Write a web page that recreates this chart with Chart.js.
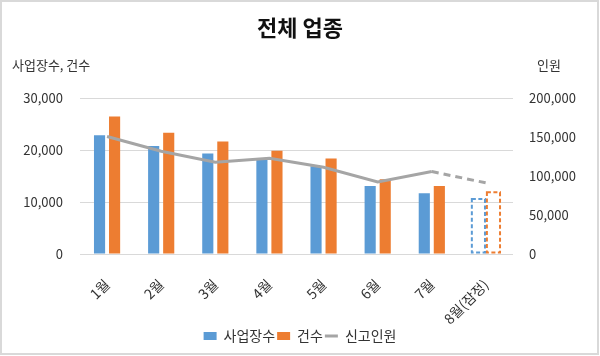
<!DOCTYPE html>
<html>
<head>
<meta charset="utf-8">
<script src="https://cdn.jsdelivr.net/npm/chart.js@4/dist/chart.umd.min.js"></script>
<style>
  html, body { margin: 0; padding: 0; background: #fff; }
  #wrap { width: 600px; height: 356px; position: relative; }
</style>
</head>
<body>
<div id="wrap"><canvas id="c" width="600" height="356"></canvas></div>
<script>
const categories = ['1월', '2월', '3월', '4월', '5월', '6월', '7월', '8월(잠정)'];
const workplaces = [22900, 20800, 19400, 18100, 16900, 13100, 11700, 10600];
const cases = [26500, 23400, 21700, 19900, 18400, 14400, 13100, 11900];
const persons = [151000, 132000, 118000, 123000, 111500, 92700, 106000, 91400];
const leftTicks = [0, 10000, 20000, 30000];
const rightTicks = [0, 50000, 100000, 150000, 200000];

const BLUE = '#5B9BD5', ORANGE = '#ED7D31', GRAY = '#A5A5A5';
const FONT = '"Noto Sans CJK KR", "Noto Sans", sans-serif';
const lastIdx = categories.length - 1;

const frame = {
  id: 'frame',
  beforeDraw(chart) {
    const ctx = chart.ctx;
    ctx.save();
    ctx.fillStyle = '#fff';
    ctx.fillRect(0, 0, chart.width, chart.height);
    ctx.restore();
  },
  afterDraw(chart) {
    const ctx = chart.ctx;
    ctx.save();
    ctx.strokeStyle = '#D9D9D9';
    ctx.lineWidth = 2;
    ctx.strokeRect(1, 1, chart.width - 3, chart.height - 3);
    // axis titles
    ctx.fillStyle = '#333';
    ctx.font = '13px ' + FONT;
    ctx.textBaseline = 'middle';
    ctx.textAlign = 'left';
    ctx.fillText('사업장수, 건수', 12, chart.chartArea.top - 33);
    ctx.fillText('인원', 537, chart.chartArea.top - 33);
    ctx.restore();
  },
  afterDatasetsDraw(chart) {
    const ctx = chart.ctx;
    ctx.save();
    ctx.lineWidth = 2;
    ctx.setLineDash([4, 2.5]);
    [[0, BLUE], [1, ORANGE]].forEach(([di, col]) => {
      const el = chart.getDatasetMeta(di).data[lastIdx];
      if (!el) return;
      const p = el.getProps(['x', 'y', 'base', 'width'], true);
      ctx.strokeStyle = col;
      const w = p.width + 2;
      ctx.strokeRect(p.x - w / 2, p.y, w, p.base - p.y - 1);
    });
    ctx.restore();
  }
};

new Chart(document.getElementById('c'), {
  type: 'bar',
  data: {
    labels: categories,
    datasets: [
      {
        label: '사업장수',
        data: workplaces,
        backgroundColor: ctx => ctx.dataIndex === lastIdx ? 'rgba(0,0,0,0)' : BLUE,
        borderWidth: 0,
        yAxisID: 'y',
        order: 1,
        pointStyle: 'rect',
        categoryPercentage: 0.556,
        barPercentage: 0.74
      },
      {
        label: '건수',
        data: cases,
        backgroundColor: ctx => ctx.dataIndex === lastIdx ? 'rgba(0,0,0,0)' : ORANGE,
        borderWidth: 0,
        yAxisID: 'y',
        order: 1,
        pointStyle: 'rect',
        categoryPercentage: 0.556,
        barPercentage: 0.74
      },
      {
        type: 'line',
        label: '신고인원',
        data: persons,
        borderColor: GRAY,
        backgroundColor: GRAY,
        borderWidth: 3,
        pointRadius: 0,
        pointHoverRadius: 0,
        tension: 0,
        yAxisID: 'y1',
        order: 0,
        pointStyle: 'line',
        segment: {
          borderDash: ctx => ctx.p1DataIndex === lastIdx ? [7, 5] : undefined
        }
      }
    ]
  },
  options: {
    responsive: false,
    animation: false,
    devicePixelRatio: 1,
    layout: { padding: { left: 0, right: 0, top: 0, bottom: 3 } },
    font: { family: FONT },
    plugins: {
      title: {
        display: true,
        text: '전체 업종',
        color: '#111',
        font: { family: FONT, size: 22, weight: 'bold' },
        padding: { top: 14, bottom: 58 }
      },
      legend: {
        position: 'bottom',
        labels: {
          usePointStyle: true,
          pointStyleWidth: 13,
          boxHeight: 8,
          padding: 2,
          color: '#333',
          font: { family: FONT, size: 14 },
          sort: (a, b) => a.datasetIndex - b.datasetIndex
        }
      },
      tooltip: { enabled: false }
    },
    scales: {
      x: {
        grid: { display: false },
        border: { display: false },
        ticks: {
          color: '#333',
          font: { family: FONT, size: 14 },
          maxRotation: 45,
          minRotation: 45,
          padding: 14
        },
        afterFit: s => { s.height = 73; }
      },
      y: {
        position: 'left',
        min: 0,
        max: 30000,
        afterBuildTicks: s => { s.ticks = leftTicks.map(v => ({ value: v })); },
        grid: { color: '#D9D9D9', drawTicks: false },
        border: { display: false },
        ticks: {
          color: '#333',
          font: { family: FONT, size: 13 },
          padding: 17,
          callback: v => v.toLocaleString('en-US')
        },
        afterFit: s => { s.width = 80; }
      },
      y1: {
        position: 'right',
        min: 0,
        max: 200000,
        afterBuildTicks: s => { s.ticks = rightTicks.map(v => ({ value: v })); },
        grid: { display: false, drawTicks: false },
        border: { display: false },
        ticks: {
          color: '#333',
          font: { family: FONT, size: 13 },
          padding: 16,
          callback: v => v.toLocaleString('en-US')
        },
        afterFit: s => { s.width = 87; }
      }
    }
  },
  plugins: [frame]
});
</script>
</body>
</html>
